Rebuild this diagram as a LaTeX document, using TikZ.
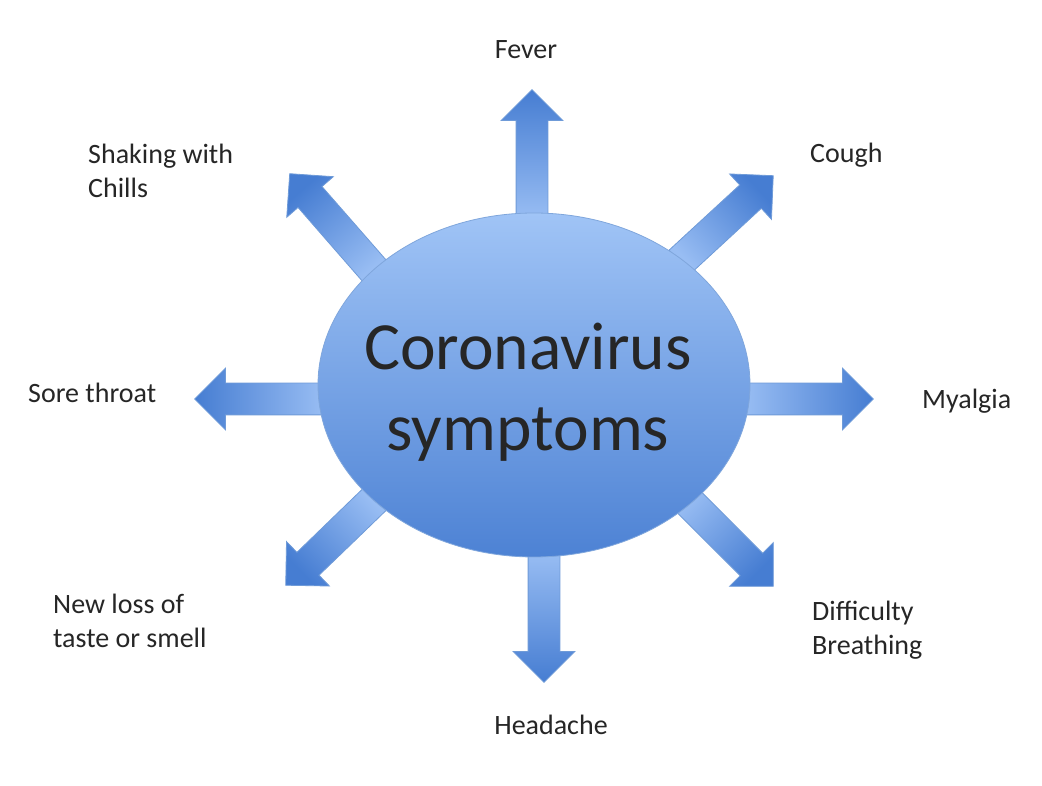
\documentclass[tikz,border=0pt]{standalone}
\usepackage{fontspec}
\setmainfont{Carlito}
\usetikzlibrary{shapes.geometric,shapes.arrows}
\definecolor{ink}{HTML}{262626}
\definecolor{corelight}{HTML}{A0C4F6}
\definecolor{coredark}{HTML}{4D82D4}
\definecolor{coreline}{HTML}{7FA6DC}
\definecolor{arrlight}{HTML}{98BDF3}
\definecolor{arrdark}{HTML}{467DD2}
\definecolor{arrline}{HTML}{6F9BD8}

\begin{document}
\begin{tikzpicture}[x=1pt,y=1pt,every node/.style={font=\fontsize{28}{34}\selectfont,text=ink}]
\tikzstyle{core}=[ellipse,draw=coreline,line width=0.8pt,top color=corelight,bottom color=coredark,minimum width=432pt,minimum height=344pt,inner sep=0pt]
\tikzstyle{spoke}=[single arrow,draw=arrline,line width=0.8pt,left color=arrlight,right color=arrdark,inner xsep=0pt,inner ysep=15.5pt,single arrow head extend=15pt,single arrow tip angle=90,anchor=tail]
\tikzstyle{lbl}=[inner sep=0pt,align=left]
\useasboundingbox (0,0) rectangle (1042,785);
\fill[white] (0,0) rectangle (1042,785);
% spokes, drawn under the ellipse (shading angle = direction + 90)
\node[spoke,rotate=90,shading angle=180,minimum height=129pt] (afever) at (532,566) {};
\node[spoke,rotate=42.7,shading angle=132.7,minimum height=127pt] (acough) at (679.6,522.9) {};
\node[spoke,rotate=0,shading angle=90,minimum height=129pt] (amyalgia) at (744,386) {};
\node[spoke,rotate=-45,shading angle=45,minimum height=127.6pt] (abreath) at (682.8,289.2) {};
\node[spoke,rotate=-90,shading angle=0,minimum height=130pt] (aheadache) at (544,233) {};
\node[spoke,rotate=224,shading angle=-46,minimum height=125.5pt] (ataste) at (376.3,287.2) {};
\node[spoke,rotate=180,shading angle=-90,minimum height=129pt] (asore) at (324,386) {};
\node[spoke,rotate=131.1,shading angle=221.1,minimum height=130.7pt] (achills) at (375.9,512.5) {};
% centre
\node[core] (core) at (534,400) {};
\node[inner sep=0pt,align=center,font=\fontsize{67.5}{81}\selectfont] (ctitle) at (528,392.5) {Coronavirus\\symptoms};
% labels (base = last line)
\node[lbl,anchor=base] (fever) at (526,726) {Fever};
\node[lbl,anchor=base west] (cough) at (810,622) {Cough};
\node[lbl,anchor=base west] (chills) at (88,587) {Shaking with\\Chills};
\node[lbl,anchor=base west] (sore) at (28,382) {Sore throat};
\node[lbl,anchor=base west] (myalgia) at (922,376) {Myalgia};
\node[lbl,anchor=base west] (breath) at (812,130) {Difficulty\\Breathing};
\node[lbl,anchor=base west] (taste) at (53,137) {New loss of\\taste or smell};
\node[lbl,anchor=base] (headache) at (551,50) {Headache};
\end{tikzpicture}
\end{document}
